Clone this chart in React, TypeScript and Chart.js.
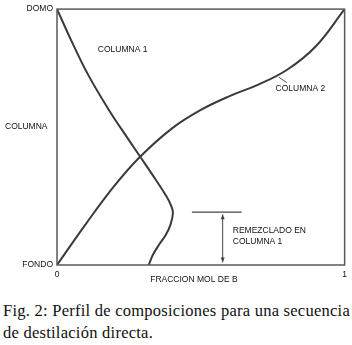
import React, { useEffect, useRef } from "react";
import { Chart, registerables } from "chart.js";

Chart.register(...registerables);

// COLUMNA 1 profile (x = fraccion mol de B, y = posicion: 0 fondo, 1 domo)
const col1X = [0.0, 0.049, 0.109, 0.181, 0.25, 0.29, 0.344, 0.378, 0.396, 0.403, 0.394, 0.378, 0.354, 0.333, 0.319];
const col1Y = [1.0, 0.879, 0.742, 0.605, 0.488, 0.422, 0.332, 0.273, 0.234, 0.203, 0.156, 0.117, 0.078, 0.039, 0.0];

// COLUMNA 2 profile
const col2X = [0.0, 0.1, 0.2, 0.288, 0.4, 0.5, 0.6, 0.7, 0.8, 0.9, 1.0];
const col2Y = [0.0, 0.16, 0.31, 0.422, 0.534, 0.606, 0.66, 0.705, 0.763, 0.855, 1.0];

const xTickValues = [0, 1];
const xTickLabels = ["0", "1"];
const yTickValues = [0, 1];
const yTickLabels = ["FONDO", "DOMO"];

const xTitle = "FRACCION MOL DE B";
const yTitle = "COLUMNA";
const label1 = "COLUMNA 1";
const label2 = "COLUMNA 2";
const remixLines = ["REMEZCLADO EN", "COLUMNA 1"];
const captionLines = [
  "Fig. 2: Perfil de composiciones para una secuencia",
  "de destilación directa.",
];

const SANS = "'Liberation Sans', Arial, sans-serif";
const LINE = "#3a3a3a";

const annotationPlugin = {
  id: "annotations",
  afterDraw(chart: any) {
    const { ctx, chartArea, scales } = chart;
    const xs = scales.x;
    const ys = scales.y;
    const px = (v: number) => xs.getPixelForValue(v);
    const py = (v: number) => ys.getPixelForValue(v);
    ctx.save();
    // frame
    ctx.strokeStyle = "#5a5a5a";
    ctx.lineWidth = 1.5;
    ctx.strokeRect(chartArea.left, chartArea.top, chartArea.right - chartArea.left, chartArea.bottom - chartArea.top);

    ctx.fillStyle = "#111";
    ctx.font = `8.5px ${SANS}`;
    ctx.textBaseline = "middle";
    ctx.textAlign = "left";
    // y title
    ctx.fillText(yTitle, 5, py(0.54));
    // curve labels
    ctx.fillText(label1, px(0.142), py(0.84));
    ctx.fillText(label2, px(0.76), py(0.6875));
    // leader for COLUMNA 2
    ctx.strokeStyle = "#555";
    ctx.lineWidth = 1;
    ctx.beginPath();
    ctx.moveTo(px(0.771), py(0.734));
    ctx.lineTo(px(0.799), py(0.713));
    ctx.stroke();

    // remezclado marker
    ctx.strokeStyle = "#444";
    ctx.lineWidth = 1.2;
    ctx.beginPath();
    ctx.moveTo(px(0.469), py(0.207));
    ctx.lineTo(px(0.642), py(0.207));
    ctx.stroke();
    const ax = px(0.576);
    const ay1 = py(0.198);
    const ay2 = py(0.01);
    ctx.lineWidth = 1;
    ctx.beginPath();
    ctx.moveTo(ax, ay1);
    ctx.lineTo(ax, ay2);
    ctx.stroke();
    ctx.fillStyle = "#444";
    ctx.beginPath();
    ctx.moveTo(ax, ay1);
    ctx.lineTo(ax - 2, ay1 + 5);
    ctx.lineTo(ax + 2, ay1 + 5);
    ctx.closePath();
    ctx.fill();
    ctx.beginPath();
    ctx.moveTo(ax, ay2);
    ctx.lineTo(ax - 2, ay2 - 5);
    ctx.lineTo(ax + 2, ay2 - 5);
    ctx.closePath();
    ctx.fill();
    ctx.fillStyle = "#111";
    ctx.fillText(remixLines[0], px(0.611), py(0.133));
    ctx.fillText(remixLines[1], px(0.611), py(0.09));

    // x title
    ctx.textAlign = "center";
    ctx.fillText(xTitle, px(0.476), py(-0.059));
    ctx.restore();
  },
};

export default function App() {
  const canvasRef = useRef<HTMLCanvasElement>(null);

  useEffect(() => {
    const canvas = canvasRef.current;
    if (!canvas) return;
    const chart = new Chart(canvas, {
      type: "scatter",
      data: {
        datasets: [
          {
            label: label1,
            data: col1X.map((x, i) => ({ x, y: col1Y[i] })),
            showLine: true,
            borderColor: LINE,
            borderWidth: 2,
            pointRadius: 0,
            tension: 0.4,
          },
          {
            label: label2,
            data: col2X.map((x, i) => ({ x, y: col2Y[i] })),
            showLine: true,
            borderColor: LINE,
            borderWidth: 2,
            pointRadius: 0,
            tension: 0.4,
          },
        ],
      },
      options: {
        responsive: false,
        animation: false,
        events: [],
        layout: { padding: { top: 9, right: 7, left: 0, bottom: 0 } },
        plugins: { legend: { display: false }, tooltip: { enabled: false } },
        scales: {
          x: {
            type: "linear",
            min: 0,
            max: 1,
            grid: { display: false, drawTicks: false },
            border: { display: false },
            afterBuildTicks: (s: any) => {
              s.ticks = xTickValues.map((v) => ({ value: v }));
            },
            afterFit: (s: any) => {
              s.height = 25;
            },
            ticks: {
              padding: 5,
              color: "#111",
              font: { family: SANS, size: 8.5 },
              maxRotation: 0,
              callback: (v: any) => {
                const i = xTickValues.indexOf(Number(v));
                return i >= 0 ? xTickLabels[i] : "";
              },
            },
          },
          y: {
            type: "linear",
            min: 0,
            max: 1,
            grid: { display: false, drawTicks: false },
            border: { display: false },
            afterBuildTicks: (s: any) => {
              s.ticks = yTickValues.map((v) => ({ value: v }));
            },
            afterFit: (s: any) => {
              s.width = 57;
            },
            ticks: {
              padding: 4,
              color: "#111",
              font: { family: SANS, size: 8.5 },
              callback: (v: any) => {
                const i = yTickValues.indexOf(Number(v));
                return i >= 0 ? yTickLabels[i] : "";
              },
            },
          },
        },
      },
      plugins: [annotationPlugin],
    });
    return () => chart.destroy();
  }, []);

  return (
    <div style={{ position: "fixed", left: 0, top: 0, width: 352, height: 345, background: "#fff" }}>
      <canvas ref={canvasRef} width={352} height={290} style={{ display: "block", width: 352, height: 290 }} />
      <div
        style={{
          position: "absolute",
          left: 3,
          top: 300,
          fontFamily: "'Liberation Serif', 'Times New Roman', serif",
          fontSize: 16.5,
          lineHeight: "22px",
          color: "#111",
          whiteSpace: "nowrap",
        }}
      >
        <div style={{ letterSpacing: "0.25px" }}>{captionLines[0]}</div>
        <div style={{ letterSpacing: "0.25px" }}>{captionLines[1]}</div>
      </div>
    </div>
  );
}
